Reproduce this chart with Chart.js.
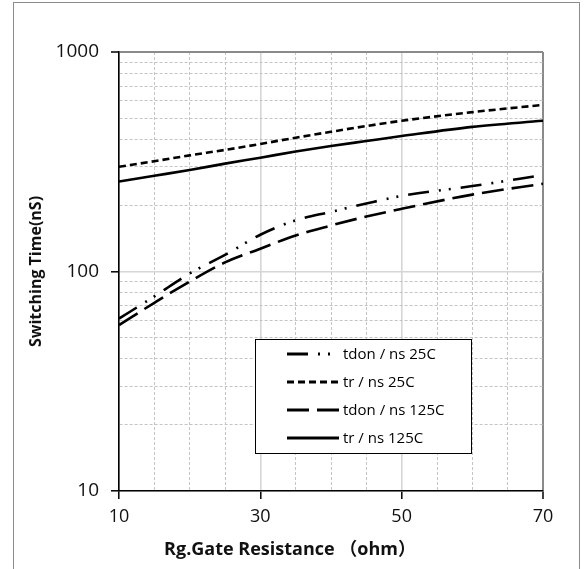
<!DOCTYPE html>
<html>
<head>
<meta charset="utf-8">
<script src="https://cdn.jsdelivr.net/npm/chart.js@4.4.1/dist/chart.umd.min.js"></script>
<style>
  html, body { margin: 0; padding: 0; background: #fff; overflow: hidden; }
  #frame { position: absolute; left: 13px; top: 2px; width: 565px; height: 620px; border: 1px solid #8c8c8c; }
  #chart { position: absolute; left: 0; top: 0; }
</style>
</head>
<body>
<div id="frame"></div>
<canvas id="chart" width="585" height="569"></canvas>
<script>
// gate resistance (ohm) and switching times (ns)
const rgOhm   = [10, 15, 20, 25, 30, 35, 40, 45, 50, 60, 70];
const tdon25  = [61, 77, 98, 119, 147, 171, 187, 204, 221, 245, 275];
const tr25    = [300, 318, 338, 358, 381, 407, 433, 460, 486, 532, 574];
const tdon125 = [57, 72, 90, 110, 127, 146, 162, 178, 193, 224, 251];
const tr125   = [257, 273, 290, 310, 330, 352, 373, 393, 414, 456, 486];

const seriesNames = ['tdon / ns 25C', 'tr / ns 25C', 'tdon / ns 125C', 'tr / ns 125C'];
const xLabels = [10, 30, 50, 70];
const yLabels = [10, 100, 1000];
const xTitle = 'Rg.Gate Resistance （ohm）';
const yTitle = 'Switching Time(nS)';

const FONT = "'Open Sans', 'Noto Sans CJK SC', sans-serif";

const toPoints = arr => arr.map((v, i) => ({ x: rgOhm[i], y: v }));

function line(label, values, dash) {
  return {
    label: label,
    data: toPoints(values),
    borderColor: '#000',
    borderWidth: 2.6,
    borderDash: dash,
    borderCapStyle: 'butt',
    pointRadius: 0,
    cubicInterpolationMode: 'monotone',
    fill: false
  };
}

// grid: solid light lines on labelled values, fine dots elsewhere, darker edge line
function gridFor(labels, edge) {
  const val = c => (c.tick ? c.tick.value : null);
  return {
    grid: {
      color: c => val(c) === edge ? '#8a8a8a' : (labels.includes(val(c)) ? '#d6d6d6' : '#c4c4c4'),
      lineWidth: c => val(c) === edge ? 2 : (labels.includes(val(c)) ? 1.6 : 1),
      tickColor: c => labels.includes(val(c)) ? '#000' : 'rgba(0,0,0,0)',
      tickWidth: 1.5,
      tickLength: 8
    },
    border: {
      color: '#000',
      width: 1.6,
      dash: c => (val(c) === edge || labels.includes(val(c))) ? [] : [3, 2]
    }
  };
}

// legend box inside the plot, plus the x axis title (sits left of the plot centre)
const extras = {
  id: 'extras',
  afterDatasetsDraw(chart) {
    const ctx = chart.ctx;
    const x0 = 255, y0 = 339, w = 216, h = 114;
    ctx.save();
    ctx.fillStyle = '#fff';
    ctx.fillRect(x0, y0, w, h);
    ctx.strokeStyle = '#000';
    ctx.lineWidth = 1;
    ctx.strokeRect(x0 + 0.5, y0 + 0.5, w, h);
    ctx.font = '15px ' + FONT;
    ctx.fillStyle = '#000';
    ctx.textBaseline = 'middle';
    chart.data.datasets.forEach((ds, i) => {
      const y = y0 + 15 + i * 28;
      ctx.beginPath();
      ctx.setLineDash(ds.borderDash);
      ctx.lineWidth = 2.8;
      ctx.strokeStyle = ds.borderColor;
      ctx.moveTo(287, y);
      ctx.lineTo(339, y);
      ctx.stroke();
      ctx.setLineDash([]);
      ctx.fillText(ds.label, 343, y + 1);
    });

    ctx.font = 'bold 18px ' + FONT;
    ctx.fillStyle = '#111';
    ctx.textAlign = 'center';
    ctx.fillText(xTitle, 290, 550);
    ctx.restore();
  }
};

const xGrid = gridFor(xLabels, 70);
const yGrid = gridFor(yLabels, 1000);

new Chart(document.getElementById('chart'), {
  type: 'line',
  data: {
    datasets: [
      line(seriesNames[0], tdon25, [21, 10, 2, 8, 2, 10]),
      line(seriesNames[1], tr25, [7, 4]),
      line(seriesNames[2], tdon125, [22, 8]),
      line(seriesNames[3], tr125, [])
    ]
  },
  options: {
    responsive: false,
    animation: false,
    layout: { padding: { top: 52, right: 42, left: 0, bottom: 0 } },
    plugins: { legend: { display: false }, tooltip: { enabled: false } },
    scales: {
      x: {
        type: 'linear',
        min: 10,
        max: 70,
        afterFit: s => { s.height = 78; },
        ticks: {
          stepSize: 5,
          autoSkip: false,
          maxRotation: 0,
          padding: 7,
          color: '#111',
          font: { family: FONT, size: 18 },
          callback: v => xLabels.includes(v) ? String(v) : ''
        },
        grid: xGrid.grid,
        border: xGrid.border
      },
      y: {
        type: 'logarithmic',
        min: 10,
        max: 1000,
        afterFit: s => { s.width = 119; },
        afterBuildTicks: s => {
          const t = [];
          for (let d = 10; d < 1000; d *= 10) {
            for (let k = 1; k < 10; k++) t.push({ value: k * d });
          }
          t.push({ value: 1000 });
          s.ticks = t;
        },
        ticks: {
          autoSkip: false,
          padding: 12,
          color: '#111',
          font: { family: FONT, size: 19 },
          callback: v => yLabels.includes(v) ? String(v) : ''
        },
        grid: yGrid.grid,
        border: yGrid.border,
        title: {
          display: true,
          text: yTitle,
          color: '#111',
          font: { family: FONT, size: 16, weight: 'bold' },
          padding: { top: 27, bottom: 0 }
        }
      }
    }
  },
  plugins: [extras]
});
</script>
</body>
</html>
